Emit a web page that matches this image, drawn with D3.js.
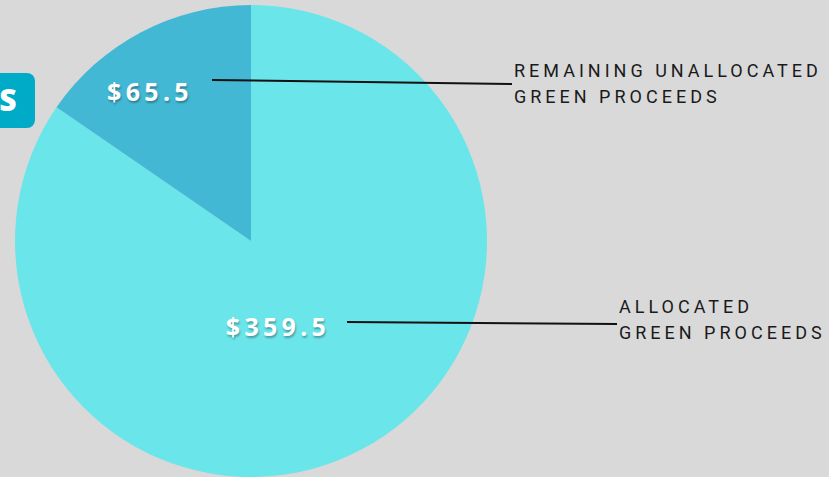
<!DOCTYPE html>
<html>
<head>
<meta charset="utf-8">
<script src="https://cdn.jsdelivr.net/npm/d3@7"></script>
<style>
  html, body { margin: 0; padding: 0; background: #d9d9d9; }
  svg { display: block; }
  .val { font-family: "Open Sans", sans-serif; font-weight: 700; fill: #fff; letter-spacing: 4.3px; text-shadow: 1px 2px 2px rgba(0,0,0,0.3); }
  .lbl { font-family: Roboto, sans-serif; fill: #1a1a1a; letter-spacing: 4px; }
</style>
</head>
<body>
<div id="chart"></div>
<script>
// Data
const categories = ["Allocated Green Proceeds", "Remaining Unallocated Green Proceeds"];
const values = [359.5, 65.5];
const valueLabels = ["$359.5", "$65.5"];
const labelLines = [["ALLOCATED", "GREEN PROCEEDS"], ["REMAINING UNALLOCATED", "GREEN PROCEEDS"]];
const colors = ["#6ae5e9", "#42b8d5"];

const width = 829, height = 477;
const cx = 251, cy = 241, radius = 236;

const svg = d3.select("#chart").append("svg")
    .attr("width", width)
    .attr("height", height);

svg.append("rect").attr("width", width).attr("height", height).attr("fill", "#d9d9d9");

// teal tab at left edge (partially cut off)
svg.append("rect")
    .attr("x", -20).attr("y", 73)
    .attr("width", 55).attr("height", 55)
    .attr("rx", 8)
    .attr("fill", "#00abc7");
svg.append("text")
    .attr("x", 8).attr("y", 111)
    .attr("text-anchor", "middle")
    .attr("font-family", "Open Sans, sans-serif")
    .attr("font-weight", 800)
    .attr("font-size", 30)
    .attr("fill", "#fff")
    .text("S");

const pie = d3.pie().sort(null).value(d => d);
const arc = d3.arc().innerRadius(0).outerRadius(radius);
const arcs = pie(values);

const g = svg.append("g").attr("transform", `translate(${cx},${cy})`);
g.selectAll("path")
    .data(arcs)
    .enter()
    .append("path")
    .attr("d", arc)
    .attr("fill", (d, i) => colors[i]);

// value labels + leader lines
const valuePos = [
    { x: 278, y: 336, lineFrom: [347, 322], lineTo: [617, 324], lblX: 619, lblY: 313 },
    { x: 150, y: 101, lineFrom: [212, 80], lineTo: [512, 84], lblX: 514, lblY: 77 }
];

valuePos.forEach((p, i) => {
    svg.append("text")
        .attr("class", "val")
        .attr("x", p.x).attr("y", p.y)
        .attr("text-anchor", "middle")
        .attr("font-size", 25)
        .text(valueLabels[i]);

    svg.append("line")
        .attr("x1", p.lineFrom[0]).attr("y1", p.lineFrom[1])
        .attr("x2", p.lineTo[0]).attr("y2", p.lineTo[1])
        .attr("stroke", "#111")
        .attr("stroke-width", 2);

    labelLines[i].forEach((t, j) => {
        svg.append("text")
            .attr("class", "lbl")
            .attr("x", p.lblX).attr("y", p.lblY + j * 26)
            .attr("font-size", 18)
            .text(t);
    });
});
</script>
</body>
</html>
